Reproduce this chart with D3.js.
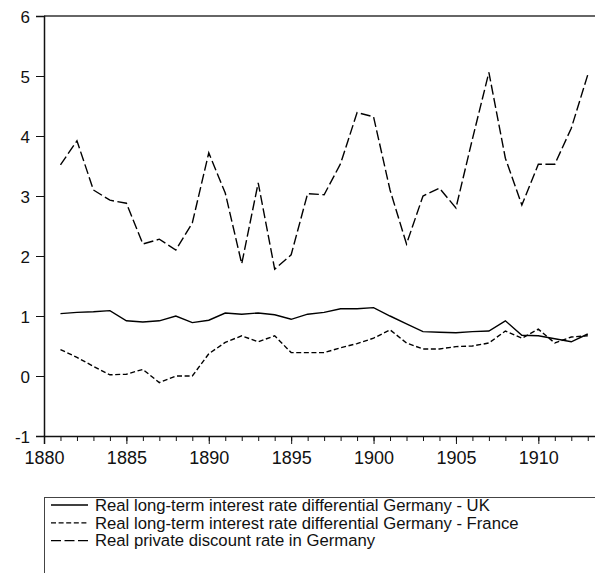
<!DOCTYPE html>
<html>
<head>
<meta charset="UTF-8">
<style>
  body { margin: 0; background: #fff; }
  svg { display: block; font-family: "Liberation Sans", Arial, sans-serif; }
</style>
</head>
<body>
<svg width="595" height="573"></svg>
<script src="https://cdnjs.cloudflare.com/ajax/libs/d3/7.8.5/d3.min.js"></script>
<script>

let years = d3.range(1881, 1914)

let ukDiff = [1.04, 1.06, 1.07, 1.09, 0.92, 0.90, 0.92, 1.00, 0.89, 0.93,
              1.05, 1.03, 1.05, 1.02, 0.945, 1.03, 1.06, 1.12, 1.12, 1.14,
              1.00, 0.87, 0.74, 0.73, 0.72, 0.74, 0.75, 0.92, 0.68, 0.67,
              0.62, 0.57, 0.70]

let franceDiff = [0.44, 0.31, 0.16, 0.02, 0.03, 0.11, -0.11, 0.00, 0.00, 0.37,
                  0.56, 0.67, 0.57, 0.67, 0.39, 0.39, 0.39, 0.47, 0.54, 0.63,
                  0.77, 0.55, 0.45, 0.45, 0.49, 0.50, 0.55, 0.75, 0.63, 0.78,
                  0.55, 0.65, 0.67]

let discountDE = [3.52, 3.92, 3.10, 2.93, 2.88, 2.20, 2.28, 2.10, 2.55, 3.72,
                  3.05, 1.87, 3.22, 1.78, 2.02, 3.04, 3.02, 3.54, 4.39, 4.32,
                  3.10, 2.20, 3.00, 3.13, 2.80, 3.95, 5.06, 3.63, 2.85, 3.53,
                  3.53, 4.13, 5.02]

let yTicks = [-1, 0, 1, 2, 3, 4, 5, 6]
let xTicks = [1880, 1885, 1890, 1895, 1900, 1905, 1910]

let seriesNames = ["Real long-term interest rate differential Germany - UK",
                   "Real long-term interest rate differential Germany - France",
                   "Real private discount rate in Germany"]
let dashes = [null, "5,2.6", "10,3.5"]

let svg = d3.select("svg")

let x = d3.scaleLinear().domain([1880, 1913.5]).range([44, 596])
let y = d3.scaleLinear().domain([-1, 6]).range([436, 16])

// frame: top line
svg.append("line")
    .attr("x1", 44).attr("x2", 595)
    .attr("y1", y(6)).attr("y2", y(6))
    .style("stroke", "#333").style("stroke-width", 1.5)

// y axis
let yAxis = svg.append("g")
    .attr("transform", "translate(44,0)")
    .call(d3.axisLeft(y).tickValues(yTicks).tickSize(8).tickPadding(6).tickFormat(function(d) { return String(d) }))
yAxis.select(".domain").style("stroke", "#111").style("stroke-width", 1.5)
yAxis.selectAll("line").style("stroke", "#111")
yAxis.selectAll("text").style("font-size", "17px").style("fill", "#111").attr("dy", "0.36em")

// x axis, minor ticks every year
let xAxis = svg.append("g")
    .attr("transform", "translate(0," + y(-1) + ")")
    .call(d3.axisBottom(x).tickValues(d3.range(1880, 1914)).tickSize(5).tickFormat(""))
xAxis.select(".domain").remove()
xAxis.selectAll("line").style("stroke", "#111")

let xMajor = svg.append("g")
    .attr("transform", "translate(0," + y(-1) + ")")
    .call(d3.axisBottom(x).tickValues(xTicks).tickSize(8).tickPadding(7).tickFormat(function(d) { return String(d) }))
xMajor.select(".domain").style("stroke", "#111").style("stroke-width", 1.5)
xMajor.selectAll("line").style("stroke", "#111")
xMajor.selectAll("text").style("font-size", "18px").style("fill", "#111")

// series
let allSeries = [ukDiff, franceDiff, discountDE]
let line = d3.line()
    .x(function(d, i) { return x(years[i]) })
    .y(function(d) { return y(d) })

allSeries.forEach(function(s, i) {
    svg.append("path")
        .datum(s)
        .attr("d", line)
        .style("fill", "none")
        .style("stroke", "#000")
        .style("stroke-width", 1.4)
        .style("stroke-dasharray", dashes[i])
})

// legend
let legend = svg.append("g")
legend.append("rect")
    .attr("x", 44.5).attr("y", 497.5)
    .attr("width", 600).attr("height", 100)
    .style("fill", "none").style("stroke", "#444")

seriesNames.forEach(function(name, i) {
    let ly = 505 + i * 17.8
    legend.append("line")
        .attr("x1", 51).attr("x2", 88)
        .attr("y1", ly).attr("y2", ly)
        .style("stroke", "#000").style("stroke-width", 1.3)
        .style("stroke-dasharray", dashes[i])
    legend.append("text")
        .attr("x", 95).attr("y", ly)
        .attr("dy", "0.35em")
        .style("font-size", "16.7px")
        .style("fill", "#111")
        .text(name)
})

</script>
</body>
</html>
